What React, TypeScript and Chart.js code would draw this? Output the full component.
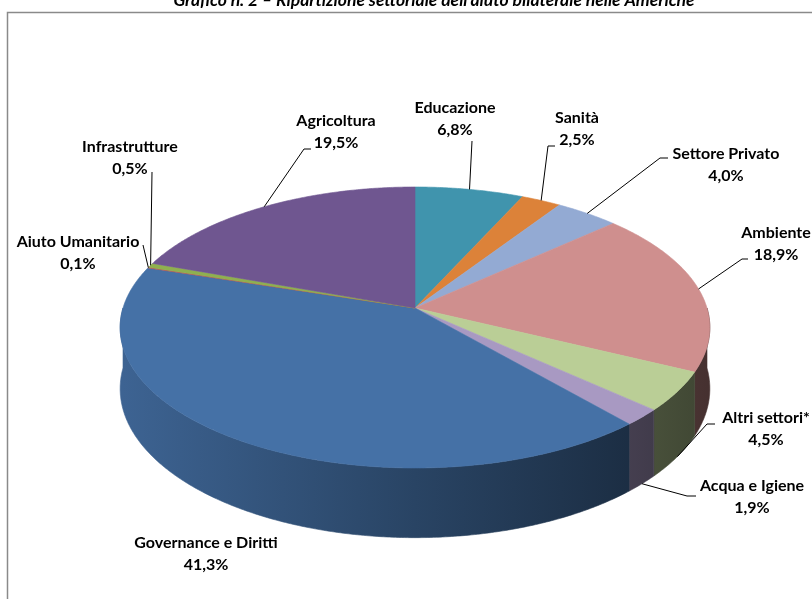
import React, { useEffect, useRef } from "react";
import { Chart, registerables } from "chart.js";

Chart.register(...registerables);

// ---------- data ----------
const categories = [
  "Educazione",
  "Sanità",
  "Settore Privato",
  "Ambiente",
  "Altri settori*",
  "Acqua e Igiene",
  "Governance e Diritti",
  "Aiuto Umanitario",
  "Infrastrutture",
  "Agricoltura",
];
const shares = [6.8, 2.5, 4.0, 18.9, 4.5, 1.9, 41.3, 0.1, 0.5, 19.5];
const valueLabels = ["6,8%", "2,5%", "4,0%", "18,9%", "4,5%", "1,9%", "41,3%", "0,1%", "0,5%", "19,5%"];
const sliceColors = [
  "#4094AD",
  "#DC8239",
  "#93AAD3",
  "#CF8F8E",
  "#BACE96",
  "#A899C2",
  "#4571A6",
  "#B65755",
  "#8FB04F",
  "#6F5690",
];
const chartTitle = "Grafico n. 2 – Ripartizione settoriale dell'aiuto bilaterale nelle Americhe";

// ---------- layout (positions / styles) ----------
const VIEW = { cx: 415, cy: 308, K: 292, tilt: 0.4719, persp: 0.1387, depth: 60 };
type LabelPos = { x: number; y: number; elbow: number[] | null; stub?: number[] | null };
const labelLayout: LabelPos[] = [
  { x: 455, y: 108, elbow: [472, 141] },
  { x: 577, y: 118, elbow: [548, 146], stub: [555, 146] },
  { x: 726, y: 154, elbow: [660, 158], stub: [668, 158] },
  { x: 776, y: 233, elbow: [742, 259], stub: [748, 259] },
  { x: 766, y: 418, elbow: [707, 424], stub: [715, 424] },
  { x: 752, y: 486, elbow: [687, 496], stub: [696, 496] },
  { x: 206, y: 543, elbow: null },
  { x: 78, y: 242, elbow: [143, 245] },
  { x: 130, y: 147, elbow: [152, 172] },
  { x: 336, y: 121, elbow: [304, 149], stub: [311, 149] },
];
const LINE_GAP = 22;
const LABEL_FONT = "bold 16px Lato";
const TITLE_FONT = "italic bold 17.5px Lato";

function hexToRgb(h: string) {
  const n = parseInt(h.slice(1), 16);
  return [(n >> 16) & 255, (n >> 8) & 255, n & 255];
}
function shade(h: string, f: number) {
  const [r, g, b] = hexToRgb(h);
  return `rgb(${Math.round(r * f)},${Math.round(g * f)},${Math.round(b * f)})`;
}

function proj(alpha: number, r: number, h: number): [number, number] {
  const u = Math.cos(alpha) * r;
  const w = -Math.sin(alpha) * r;
  const den = 1 + VIEW.persp * w;
  return [VIEW.cx + (VIEW.K * u) / den, VIEW.cy - (VIEW.K * VIEW.tilt * w) / den + (h * VIEW.depth) / den];
}

const pie3D = {
  id: "pie3D",
  beforeDraw(chart: any) {
    const ctx = chart.ctx as CanvasRenderingContext2D;
    ctx.save();
    ctx.fillStyle = "#fff";
    ctx.fillRect(0, 0, chart.width, chart.height);
    ctx.strokeStyle = "#8a8a8a";
    ctx.lineWidth = 1.5;
    ctx.strokeRect(7.5, 12.5, 840, 640);
    ctx.fillStyle = "#000";
    ctx.font = TITLE_FONT;
    ctx.textAlign = "center";
    ctx.textBaseline = "alphabetic";
    ctx.fillText(chartTitle, 434, 6);
    ctx.restore();
  },
  beforeDatasetsDraw() {
    return false;
  },
  afterDraw(chart: any) {
    const ctx = chart.ctx as CanvasRenderingContext2D;
    const meta = chart.getDatasetMeta(0);
    const arcs = meta.data as any[];
    const step = Math.PI / 360;
    ctx.save();
    // side (front-facing part only)
    arcs.forEach((el, i) => {
      const a0 = Math.max(el.startAngle, 0);
      const a1 = Math.min(el.endAngle, Math.PI);
      if (a1 <= a0) return;
      const n = Math.max(1, Math.ceil((a1 - a0) / step));
      const grad = ctx.createLinearGradient(VIEW.cx - VIEW.K, 0, VIEW.cx + VIEW.K, 0);
      grad.addColorStop(0, shade(sliceColors[i], 0.88));
      grad.addColorStop(0.5, shade(sliceColors[i], 0.6));
      grad.addColorStop(1, shade(sliceColors[i], 0.34));
      ctx.beginPath();
      for (let k = 0; k <= n; k++) {
        const p = proj(a0 + ((a1 - a0) * k) / n, 1, 0);
        if (k === 0) ctx.moveTo(p[0], p[1]);
        else ctx.lineTo(p[0], p[1]);
      }
      for (let k = n; k >= 0; k--) {
        const p = proj(a0 + ((a1 - a0) * k) / n, 1, 1);
        ctx.lineTo(p[0], p[1]);
      }
      ctx.closePath();
      ctx.fillStyle = grad;
      ctx.strokeStyle = grad;
      ctx.lineWidth = 0.6;
      ctx.fill();
      ctx.stroke();
    });
    // top faces
    arcs.forEach((el, i) => {
      const a0 = el.startAngle, a1 = el.endAngle;
      const n = Math.max(1, Math.ceil((a1 - a0) / step));
      ctx.beginPath();
      const c = proj(0, 0, 0);
      ctx.moveTo(c[0], c[1]);
      for (let k = 0; k <= n; k++) {
        const p = proj(a0 + ((a1 - a0) * k) / n, 1, 0);
        ctx.lineTo(p[0], p[1]);
      }
      ctx.closePath();
      ctx.fillStyle = sliceColors[i];
      ctx.strokeStyle = sliceColors[i];
      ctx.lineWidth = 0.6;
      ctx.fill();
      ctx.stroke();
    });
    // leader lines
    ctx.strokeStyle = "#000";
    ctx.lineWidth = 1;
    arcs.forEach((el, i) => {
      const L = labelLayout[i];
      if (L.elbow) {
        const m = (el.startAngle + el.endAngle) / 2;
        const front = -Math.sin(m) < 0;
        const anc = proj(m, 1, front ? 1 : 0);
        ctx.beginPath();
        ctx.moveTo(anc[0], anc[1]);
        ctx.lineTo(L.elbow[0], L.elbow[1]);
        if (L.stub) ctx.lineTo(L.stub[0], L.stub[1]);
        ctx.stroke();
      }
    });
    // labels
    ctx.fillStyle = "#000";
    ctx.font = LABEL_FONT;
    ctx.textAlign = "center";
    ctx.textBaseline = "middle";
    categories.forEach((c, i) => {
      const L = labelLayout[i];
      ctx.fillText(c, L.x, L.y);
      ctx.fillText(valueLabels[i], L.x, L.y + LINE_GAP);
    });
    ctx.restore();
  },
};

export default function App() {
  const ref = useRef<HTMLCanvasElement | null>(null);
  useEffect(() => {
    if (!ref.current) return;
    const chart = new Chart(ref.current, {
      type: "pie",
      data: {
        labels: categories,
        datasets: [{ data: shares, backgroundColor: sliceColors, borderWidth: 0 }],
      },
      options: {
        responsive: false,
        animation: false,
        events: [],
        plugins: { legend: { display: false }, tooltip: { enabled: false } },
      },
      plugins: [pie3D],
    });
    return () => chart.destroy();
  }, []);
  return (
    <div style={{ position: "fixed", left: 0, top: 0, width: 812, height: 599, background: "#fff" }}>
      <canvas ref={ref} width={812} height={599} />
    </div>
  );
}
